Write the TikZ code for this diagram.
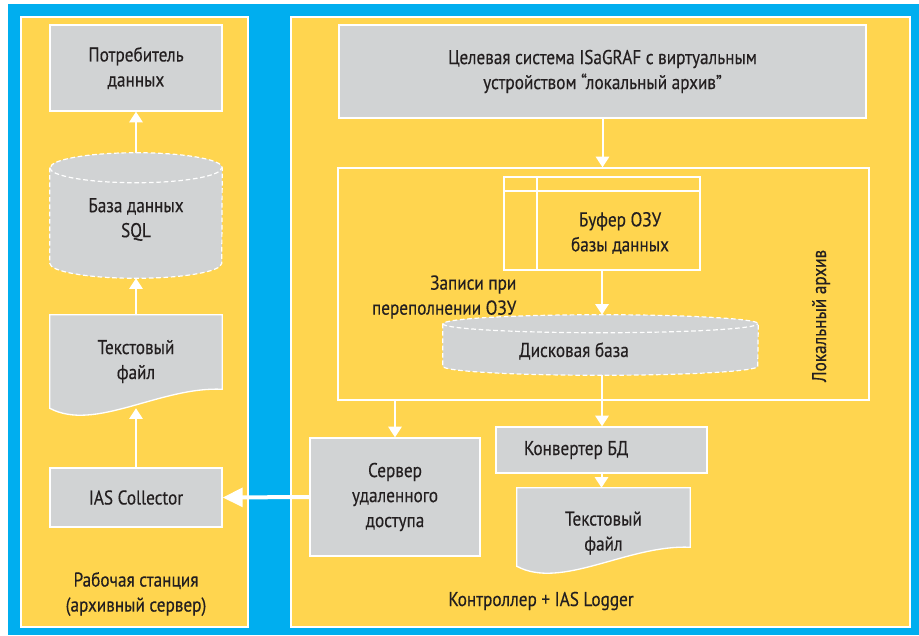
\documentclass[tikz,border=0pt]{standalone}
\usepackage{fontspec}
\setmainfont{PT Sans}[FakeStretch=0.86, FakeBold=0.35]
\usepackage{tikz}
\usetikzlibrary{calc}
\usetikzlibrary{positioning}
\usetikzlibrary{arrows.meta}
\definecolor{skyBlue}{RGB}{0,174,239}
\definecolor{panelYellow}{RGB}{255,213,79}
\definecolor{boxGray}{RGB}{209,211,212}
\definecolor{inkColor}{RGB}{35,31,32}
\newcommand{\px}{0.75pt}
\newcommand{\edgeColor}{white}
\tikzset{txt/.style = {text=inkColor, align=center, font=\fontsize{15}{18.75}\selectfont}}
\tikzset{panel/.style = {fill=panelYellow, draw=\edgeColor, line width=1pt}}
\tikzset{box/.style = {txt, fill=boxGray, draw=\edgeColor, line width=1pt, inner sep=0pt}}
\tikzset{hollow/.style = {draw=\edgeColor, inner sep=0pt}}
\tikzset{dashedge/.style = {draw=\edgeColor, line width=0.9pt, dash pattern=on 3.5pt off 2pt}}
\tikzset{flow/.style = {draw=\edgeColor, line width=1.5pt, -{Triangle[length=8pt, width=10pt]}}}
\tikzset{bigflow/.style = {draw=\edgeColor, line width=3pt, -{Triangle[length=15pt, width=14pt]}}}
\newcommand{\docShape}[1]{(#1.north west) -- (#1.north east) -- ([yshift=19*\px]#1.south east) .. controls +(-62*\px,3*\px) and +(45*\px,-24*\px) .. (#1.south west) -- cycle}
\newcommand{\cylShape}[3]{([yshift=-#3*\px]#1.north west) -- ([yshift=#3*\px]#1.south west) arc[start angle=180, end angle=360, x radius=#2*\px, y radius=#3*\px] -- ([yshift=-#3*\px]#1.north east) arc[start angle=0, end angle=180, x radius=#2*\px, y radius=#3*\px] -- cycle}
\newcommand{\cylLid}[3]{([yshift=-#3*\px]#1.north west) arc[start angle=180, end angle=360, x radius=#2*\px, y radius=#3*\px]}

\begin{document}
\begin{tikzpicture}[x=\px, y=-\px]
\useasboundingbox (0,0) rectangle (919,635);
\fill[white] (0,0) rectangle (919,635);
\fill[skyBlue] (8,4) rectangle (919,635);
\draw[panel] (21,17) rectangle (248,627);
\draw[panel] (291,17) rectangle (910,627);

% workstation side
\node[box, minimum width=172*\px, minimum height=86*\px] (consumer) at (136,68) {Потребитель\\данных};
\node[txt, minimum width=172*\px, minimum height=125*\px, inner sep=0pt] (sqlbase) at (136,215.5) {};
\filldraw[fill=boxGray, dashedge] \cylShape{sqlbase}{86}{15};
\draw[dashedge] \cylLid{sqlbase}{86}{15};
\node[txt] (sqlText) at ([yshift=-4*\px]sqlbase.center) {База данных\\SQL};
\node[txt, minimum width=172*\px, minimum height=93*\px, inner sep=0pt] (textfile) at (136,361.5) {};
\filldraw[fill=boxGray, draw=\edgeColor, line width=1pt] \docShape{textfile};
\node[txt] (textfileText) at (textfile.center) {Текстовый\\файл};
\node[box, minimum width=172*\px, minimum height=59*\px] (collector) at (136,497.5) {IAS Collector};
\node[txt] (station) at (136,594) {Рабочая станция\\(архивный сервер)};

% controller side
\node[box, minimum width=527*\px, minimum height=93*\px] (target) at (602.5,71.5) {Целевая система ISaGRAF с виртуальным\\устройством “локальный архив”};
\node[hollow, line width=1pt, minimum width=531*\px, minimum height=232*\px] (archive) at (603.5,284) {};
\node[txt, rotate=90] (archiveName) at (821,316) {Локальный архив};
\node[hollow, line width=1.5pt, minimum width=196*\px, minimum height=93*\px] (buffer) at (602,223.5) {};
\draw[\edgeColor, line width=1.5pt] ([yshift=-15*\px]buffer.north west) -- ([yshift=-15*\px]buffer.north east);
\draw[\edgeColor, line width=1.5pt] ([xshift=34*\px]buffer.north west) -- ([xshift=34*\px]buffer.south west);
\node[txt] (bufferText) at (620,233) {Буфер ОЗУ\\базы данных};
\node[txt, minimum width=315*\px, minimum height=60*\px, inner sep=0pt] (diskbase) at (600.5,345) {};
\filldraw[fill=boxGray, dashedge] \cylShape{diskbase}{157.5}{9};
\draw[dashedge] \cylLid{diskbase}{157.5}{9};
\node[txt] (diskText) at (574,351) {Дисковая база};
\node[txt, align=right, anchor=east] (overflow) at (521,297) {Записи при\\переполнении ОЗУ};
\node[box, minimum width=170*\px, minimum height=118*\px] (server) at (395,497) {Сервер\\удаленного\\доступа};
\node[box, minimum width=211*\px, minimum height=46*\px] (converter) at (601.5,450) {};
\node[txt, anchor=west] (converterText) at ([xshift=24*\px]converter.west) {Конвертер БД};
\node[txt, minimum width=173*\px, minimum height=78*\px, inner sep=0pt] (logfile) at (603.5,527) {};
\filldraw[fill=boxGray, draw=\edgeColor, line width=1pt] \docShape{logfile};
\node[txt] (logfileText) at ([yshift=-6*\px]logfile.center) {Текстовый\\файл};
\node[txt] (controller) at (541,601) {Контроллер + IAS Logger};

% data flow
\draw[flow] (sqlbase.north) -- (consumer.south);
\draw[flow] (textfile.north) -- (sqlbase.south);
\draw[flow] (collector.north) -- (textfile.south);
\draw[flow] (target.south) -- (target.south |- archive.north);
\draw[flow] (buffer.south) -- (buffer.south |- diskbase.north);
\draw[flow] (buffer.south |- diskbase.south) -- (buffer.south |- converter.north);
\draw[flow] (archive.south -| server.north) -- (server.north);
\draw[flow] (converter.south) -- (converter.south |- logfile.north);
\draw[bigflow] (server.west) -- (collector.east);
\end{tikzpicture}
\end{document}
